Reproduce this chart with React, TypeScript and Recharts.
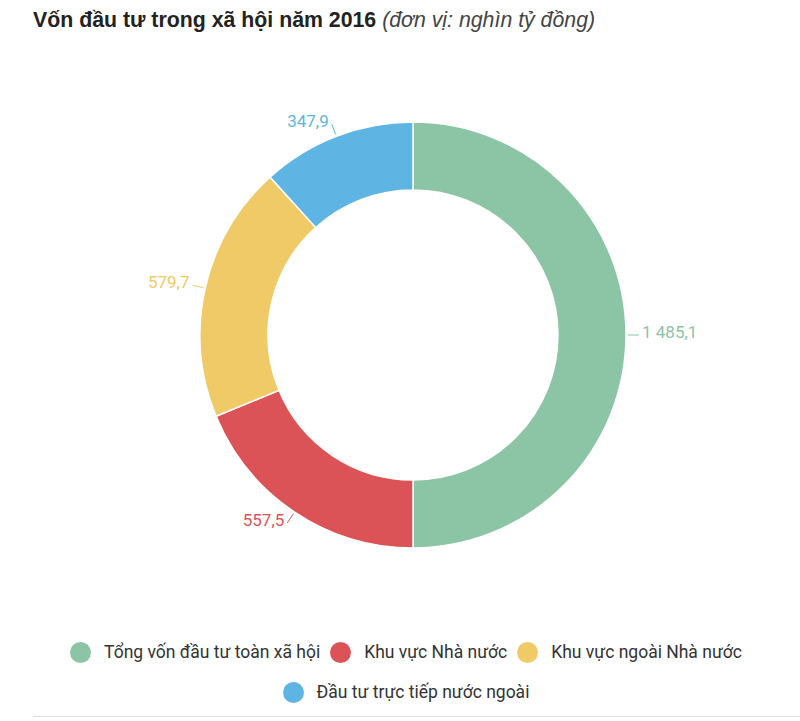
import React from "react";
import { PieChart, Pie, Cell, Legend } from "recharts";

const CATEGORIES = [
  "Tổng vốn đầu tư toàn xã hội",
  "Khu vực Nhà nước",
  "Khu vực ngoài Nhà nước",
  "Đầu tư trực tiếp nước ngoài",
];
const VALUES = [1485.1, 557.5, 579.7, 347.9];
const LABELS = ["1 485,1", "557,5", "579,7", "347,9"];
const COLORS = ["#8cc4a6", "#db5356", "#efca66", "#5eb5e3"];

const data = CATEGORIES.map((name, i) => ({ name, value: VALUES[i], label: LABELS[i] }));

const RAD = Math.PI / 180;

const renderLabel = (props: any) => {
  const { cx, cy, midAngle, outerRadius, index } = props;
  const cos = Math.cos(-midAngle * RAD);
  const sin = Math.sin(-midAngle * RAD);
  const x1 = cx + (outerRadius + 2) * cos;
  const y1 = cy + (outerRadius + 2) * sin;
  const x2 = cx + (outerRadius + 13) * cos;
  const y2 = cy + (outerRadius + 13) * sin;
  const right = cos >= 0;
  const tx = x2 + (right ? 3 : -3);
  const color = COLORS[index];
  return (
    <g>
      <line x1={x1} y1={y1} x2={x2} y2={y2} stroke={color} strokeWidth={1} />
      <text
        x={tx}
        y={y2 - 3}
        textAnchor={right ? "start" : "end"}
        dominantBaseline="central"
        fill={color}
        fontSize={17}
        fontFamily="Roboto, sans-serif"
      >
        {LABELS[index]}
      </text>
    </g>
  );
};

const renderLegend = () => (
  <div
    style={{
      display: "flex",
      flexWrap: "wrap",
      justifyContent: "center",
      rowGap: 18,
      columnGap: 10,
      width: 720,
      marginLeft: 46,
      fontFamily: "Roboto, sans-serif",
      fontSize: 17.5,
      color: "#333",
    }}
  >
    {CATEGORIES.map((c, i) => (
      <div key={c} style={{ display: "flex", alignItems: "center", height: 22 }}>
        <span
          style={{
            width: 21,
            height: 21,
            borderRadius: "50%",
            background: COLORS[i],
            display: "inline-block",
            marginRight: 13,
          }}
        />
        {c}
      </div>
    ))}
  </div>
);

export default function App() {
  return (
    <div style={{ position: "absolute", left: 0, top: 0, width: 800, height: 721, background: "#fff" }}>
      <div
        style={{
          position: "absolute",
          left: 33,
          top: 8,
          fontFamily: "'Liberation Sans', Arial, sans-serif",
          fontSize: 21.3,
          color: "#222",
          whiteSpace: "nowrap",
        }}
      >
        <b>Vốn đầu tư trong xã hội năm 2016</b>{" "}
        <i style={{ color: "#444" }}>(đơn vị: nghìn tỷ đồng)</i>
      </div>
      <PieChart
        width={800}
        height={721}
        margin={{ top: 0, right: 0, bottom: 0, left: 0 }}
        style={{ position: "absolute", left: 0, top: 0 }}
      >
        <Pie
          data={data}
          dataKey="value"
          nameKey="name"
          cx={413}
          cy={335}
          outerRadius={213}
          innerRadius={145}
          startAngle={90}
          endAngle={-270}
          stroke="#fff"
          strokeWidth={1.5}
          label={renderLabel}
          labelLine={false}
          isAnimationActive={false}
        >
          {data.map((_, i) => (
            <Cell key={i} fill={COLORS[i]} />
          ))}
        </Pie>
        <Legend content={renderLegend} wrapperStyle={{ left: 0, top: 641, width: 800 }} />
      </PieChart>
      <div style={{ position: "absolute", left: 33, top: 716, width: 767, height: 1, background: "#ddd" }} />
    </div>
  );
}
